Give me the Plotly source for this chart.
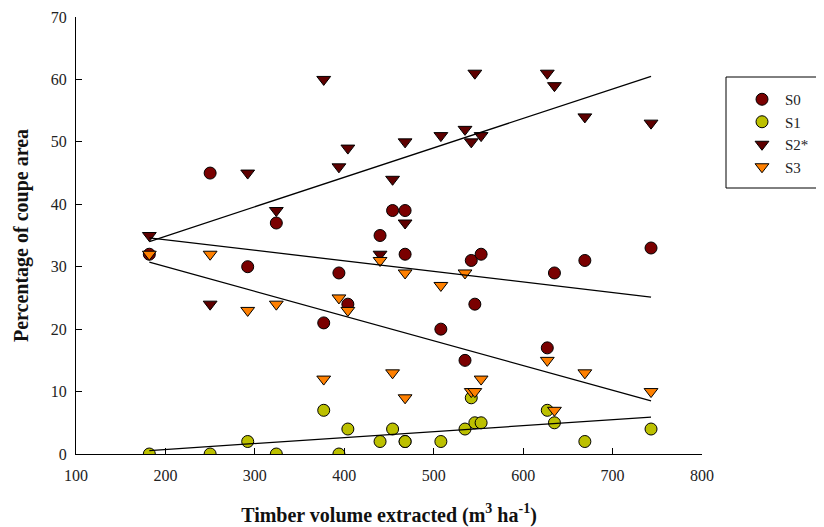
import numpy as np
import plotly.graph_objects as go

# Timber volume extracted per coupe (m3/ha)
volume = [182, 250, 292, 324, 377, 394, 404, 440, 454, 468, 468, 508,
          535, 542, 546, 553, 627, 635, 669, 743]
# Percentage of coupe area for each disturbance class
s0 = [32, 45, 30, 37, 21, 29, 24, 35, 39, 39, 32, 20, 15, 31, 24, 32, 17, 29, 31, 33]
s1 = [0, 0, 2, 0, 7, 0, 4, 2, 4, 2, 2, 2, 4, 9, 5, 5, 7, 5, 2, 4]
s2 = [35, 24, 45, 39, 60, 46, 49, 32, 44, 50, 37, 51, 52, 50, 61, 51, 61, 59, 54, 53]
s3 = [32, 32, 23, 24, 12, 25, 23, 31, 13, 9, 29, 27, 29, 10, 10, 12, 15, 7, 13, 10]

series_names = ["S0", "S1", "S2*", "S3"]
series_vals = [s0, s1, s2, s3]
symbols = ["circle", "circle", "triangle-down", "triangle-down"]
colors = ["#7a0000", "#bcc000", "#5e0000", "#ff8000"]
sizes = [12, 12, 12, 12]

x_ticks = [100, 200, 300, 400, 500, 600, 700, 800]
y_ticks = [0, 10, 20, 30, 40, 50, 60, 70]

FONT = "Liberation Serif"

fig = go.Figure()
for name, vals, sym, col, sz in zip(series_names, series_vals, symbols, colors, sizes):
    fig.add_trace(go.Scatter(
        x=volume, y=vals, mode="markers", name=name,
        marker=dict(symbol=sym, color=col, size=sz,
                    line=dict(color="black", width=1)),
    ))

# Linear regression lines for each series
xv = np.array(volume, dtype=float)
xl = np.array([xv.min(), xv.max()])
for name, vals in zip(series_names, series_vals):
    k, b = np.polyfit(xv, np.array(vals, dtype=float), 1)
    fig.add_trace(go.Scatter(
        x=xl, y=k * xl + b, mode="lines", showlegend=False,
        line=dict(color="black", width=1.3), hoverinfo="skip",
    ))

# page body has an 8px margin; figure is sized to fit inside the window
OFF = 8
W, H = 824 - OFF, 527 - OFF
L, T = 76 - OFF, 17 - OFF
R = W - (702 - OFF)
B = H - (454 - OFF)
pw, ph = W - L - R, H - T - B

def px_x(p):
    return (p - OFF - L) / pw

def px_y(p):
    return (H - B - (p - OFF)) / ph

fig.add_shape(type="rect", xref="paper", yref="paper",
              x0=px_x(726), x1=px_x(817), y0=px_y(188), y1=px_y(77),
              line=dict(color="black", width=1), fillcolor="rgba(0,0,0,0)")

fig.update_layout(
    width=W, height=H,
    margin=dict(l=L, r=R, t=T, b=B, autoexpand=False),
    paper_bgcolor="white", plot_bgcolor="white",
    font=dict(family=FONT, size=16, color="#222"),
    legend=dict(x=px_x(736), y=px_y(83), xanchor="left", yanchor="top",
                bgcolor="rgba(0,0,0,0)", borderwidth=0,
                font=dict(family=FONT, size=15, color="#222"),
                tracegroupgap=0, indentation=3, itemwidth=36),
    xaxis=dict(range=[100, 800], tickvals=x_ticks, ticks="inside", ticklen=6,
               tickcolor="black", showline=True, linecolor="black", linewidth=1,
               showgrid=False, zeroline=False, ticklabelstandoff=7,
               tickfont=dict(family=FONT, size=16, color="#222"),
               title=dict(text="<b>Timber volume extracted (m<sup>3</sup> ha<sup>-1</sup>)</b>",
                          font=dict(family=FONT, size=20, color="#111"), standoff=24)),
    yaxis=dict(range=[0, 70], tickvals=y_ticks, ticks="inside", ticklen=6,
               tickcolor="black", showline=True, linecolor="black", linewidth=1,
               showgrid=False, zeroline=False, ticklabelstandoff=5,
               tickfont=dict(family=FONT, size=16, color="#222"),
               title=dict(text="<b>Percentage of coupe area</b>",
                          font=dict(family=FONT, size=20, color="#111"), standoff=16)),
)

fig.write_html("out.html")
